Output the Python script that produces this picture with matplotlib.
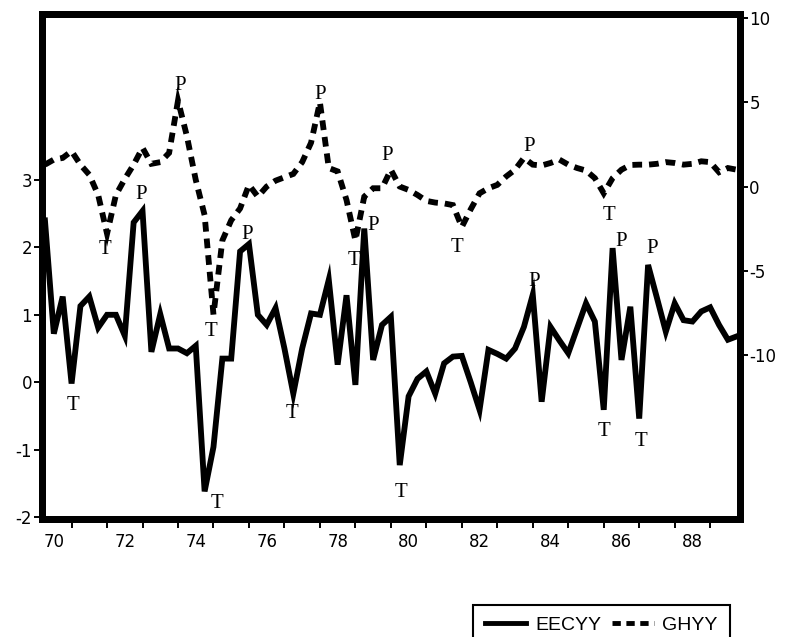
import numpy as np
import matplotlib.pyplot as plt
from matplotlib.lines import Line2D

plt.rcParams['font.family'] = 'DejaVu Sans'
plt.rcParams['axes.unicode_minus'] = False
plt.rcParams['lines.scale_dashes'] = False

# quarterly data, first observation 1970Q2, last 1989Q4
start = 1970.25
eecyy = [2.40, 0.72, 1.27, -0.02, 1.13, 1.27, 0.81, 1.00, 1.00, 0.69,
         2.37, 2.54, 0.45, 1.01, 0.50, 0.50, 0.43, 0.54, -1.62, -0.96,
         0.35, 0.35, 1.94, 2.05, 1.00, 0.85, 1.10, 0.50, -0.17, 0.50,
         1.02, 1.00, 1.52, 0.26, 1.29, -0.04, 2.28, 0.33, 0.85, 0.97,
         -1.23, -0.21, 0.05, 0.16, -0.17, 0.28, 0.38, 0.39, 0.00, -0.41,
         0.48, 0.42, 0.35, 0.50, 0.82, 1.30, -0.29, 0.82, 0.62, 0.43,
         0.80, 1.17, 0.90, -0.41, 1.99, 0.33, 1.12, -0.54, 1.74, 1.25,
         0.75, 1.17, 0.92, 0.90, 1.05, 1.11, 0.85, 0.63, 0.68]
ghyy = [1.3, 1.6, 1.7, 2.1, 1.3, 0.7, -0.5, -2.8, -0.5, 0.45,
        1.3, 2.3, 1.35, 1.45, 2.0, 5.1, 3.0, 0.4, -1.7, -7.6,
        -3.2, -2.0, -1.3, 0.1, -0.6, 0.0, 0.35, 0.55, 0.75, 1.45,
        2.6, 5.0, 1.1, 0.9, -0.8, -3.2, -0.6, -0.1, -0.1, 1.0,
        0.0, -0.2, -0.5, -0.85, -0.95, -1.0, -1.1, -2.4, -1.35, -0.4,
        -0.1, 0.1, 0.6, 1.0, 1.7, 1.3, 1.25, 1.4, 1.6, 1.3,
        1.1, 0.95, 0.5, -0.4, 0.5, 1.0, 1.28, 1.3, 1.3, 1.35,
        1.45, 1.4, 1.3, 1.35, 1.5, 1.45, 0.85, 1.1, 1.0]

# turning points (index into series, label)
eecyy_turns = [(3, 'T'), (11, 'P'), (18, 'T'), (23, 'P'), (28, 'T'), (36, 'P'),
               (40, 'T'), (55, 'P'), (63, 'T'), (64, 'P'), (67, 'T'), (68, 'P')]
ghyy_turns = [(7, 'T'), (15, 'P'), (19, 'T'), (31, 'P'), (35, 'T'), (39, 'P'),
              (47, 'T'), (54, 'P'), (63, 'T')]

left_ticks = [-2, -1, 0, 1, 2, 3]
right_ticks = [-10, -5, 0, 5, 10]
year_labels = ['70', '72', '74', '76', '78', '80', '82', '84', '86', '88']

x = start + np.arange(len(eecyy)) / 4.0

fig = plt.figure(figsize=(7.88, 6.37), dpi=100)
ax = fig.add_axes([0.0539, 0.1852, 0.8856, 0.7936])
ax2 = ax.twinx()

ax.plot(x, eecyy, color='black', lw=4.2, solid_joinstyle='miter', zorder=3)
ax2.plot(x, ghyy, color='black', lw=4.2, dashes=(7, 5),
         dash_capstyle='butt', dash_joinstyle='miter')

ax.set_xlim(1970.18, 1989.85)
ax.set_ylim(-2.03, 5.47)
ax2.set_ylim(-19.73, 10.27)

# label offsets in pixels (dx right, dy down) for each turning point
solid_off = [(1, 20), (-1, -19), (12, 10), (-2, -12), (-1.5, 17), (9, -5),
             (1, 25), (1, -15), (0, 19.5), (9, -9), (1.5, 21), (4, -19)]
dash_off = [(-2, 13), (2, -18), (-2, 14), (0, -10), (-1, 18), (-4, -17),
            (-5, 18), (5, -14), (5, 20)]

def mark(axis, series, turns, offs):
    for (i, lab), (dx, dy) in zip(turns, offs):
        axis.annotate(lab, (x[i], series[i]), xytext=(dx, -dy - 6.9),
                      textcoords='offset pixels', ha='center', va='baseline',
                      fontsize=15, family='Liberation Serif',
                      annotation_clip=False, zorder=5)

mark(ax, eecyy, eecyy_turns, solid_off)
mark(ax2, ghyy, ghyy_turns, dash_off)

for a in (ax, ax2):
    for s in a.spines.values():
        s.set_linewidth(5)
        s.set_color('black')

ax.set_yticks(left_ticks)
ax.set_yticklabels([str(v) for v in left_ticks])
ax.tick_params(axis='y', direction='out', length=5.5, width=1.4, pad=2,
               labelsize=12)
ax2.set_yticks(right_ticks)
ax2.set_yticklabels([str(v) for v in right_ticks])
ax2.tick_params(axis='y', direction='out', length=5.5, width=1.4, pad=1,
                labelsize=12)

ax.set_xticks(np.arange(1971, 1990))
ax.set_xticklabels([])
ax.set_xticks(np.arange(1970, 1990, 2) + 0.5, minor=True)
ax.set_xticklabels(year_labels, minor=True)
ax.tick_params(axis='x', which='major', direction='out', length=6.5, width=1.4)
ax.tick_params(axis='x', which='minor', length=0, pad=10, labelsize=12)

handles = [Line2D([], [], color='black', lw=3.5),
           Line2D([], [], color='black', lw=3.5, dashes=(6, 4),
                  dash_capstyle='butt')]
leg = fig.legend(handles, ['EECYY', 'GHYY'], loc='upper left',
                 bbox_to_anchor=(473 / 788, 1 - 605 / 637), ncol=2,
                 prop={'family': 'Liberation Sans', 'size': 14},
                 frameon=True, fancybox=False, edgecolor='black',
                 framealpha=1, borderaxespad=0, borderpad=0.6,
                 handlelength=2.15, handletextpad=0.45, columnspacing=0.55)
leg.get_frame().set_linewidth(1.5)

fig.savefig('out.png', dpi=100)
